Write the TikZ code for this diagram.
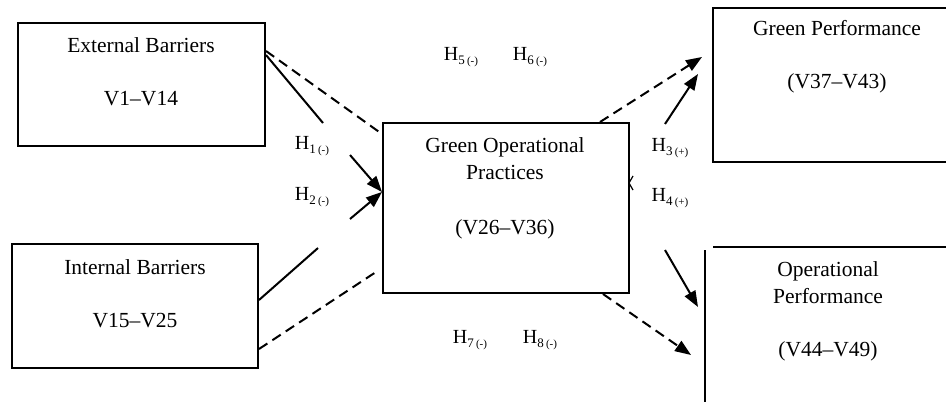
\documentclass[tikz,border=0pt]{standalone}
\usepackage{fontspec}
\setmainfont{Liberation Serif}
\usepackage{tikz}
\usetikzlibrary{arrows.meta}
\newcommand{\hyp}[2]{H\raisebox{-0.45ex}{\fontsize{6.5}{6.5}\selectfont#1\,\fontsize{5.5}{5.5}\selectfont(#2)}}

\begin{document}
\begin{tikzpicture}[x=0.5pt,y=-0.5pt,line width=1pt]
	\useasboundingbox (0,0) rectangle (946,402);
	\begin{scope}[every node/.style={draw,rectangle,inner sep=0pt}]
		\node (ext) at (141.5,84.5) [minimum width=123.5pt,minimum height=61.5pt] {};
		\node (int) at (135,306) [minimum width=123pt,minimum height=62pt] {};
		\node (gop) at (506,208) [minimum width=123pt,minimum height=85pt] {};
	\end{scope}
	% open boxes on the right
	\draw (946,8) -- (713,8) -- (713,162) -- (946,162);
	\draw (713,247) -- (946,247);
	\draw (705,250) -- (705,402);
	\draw[line width=0.6pt] (633,176) -- (629,183) -- (633,190);

	\begin{scope}[every node/.style={align=center,font=\fontsize{10.75}{13.5}\selectfont}]
		\node (extt) at (141,71.5) {External Barriers\\[13pt]V1--V14};
		\node (intt) at (135,294) {Internal Barriers\\[13pt]V15--V25};
		\node (gopt) at (505,188) {Green Operational\\Practices\\[14pt](V26--V36)};
		\node (gpt) at (837,57) {Green Performance\\[13pt](V37--V43)};
		\node (opt) at (828,311) {Operational\\Performance\\[13pt](V44--V49)};
	\end{scope}

	\begin{scope}[every node/.style={font=\fontsize{10}{12}\selectfont}]
		\node (h1) at (312,146) {\hyp{1}{-}};
		\node (h2) at (312,197) {\hyp{2}{-}};
		\node (h3) at (670,148) {\hyp{3}{+}};
		\node (h4) at (670,198) {\hyp{4}{+}};
		\node (h5) at (461,57) {\hyp{5}{-}};
		\node (h6) at (530,57) {\hyp{6}{-}};
		\node (h7) at (470,340) {\hyp{7}{-}};
		\node (h8) at (540,340) {\hyp{8}{-}};
	\end{scope}

	\begin{scope}[>={Triangle[length=8pt,width=6pt]},
	              dsh/.style={dash pattern=on 5pt off 3pt}]
		\coordinate (g1a) at (323,123);
		\coordinate (g1b) at (350,155);
		\coordinate (g2a) at (318,248);
		\coordinate (g2b) at (350,219);
		\coordinate (t5) at (702,57);
		\coordinate (h3a) at (665,124);
		\coordinate (h3b) at (698,74);
		\coordinate (h4a) at (665,250);
		\coordinate (h4b) at (698,307);
		\coordinate (t7) at (691,355);

		\draw ([yshift=-16.5pt]ext.north east) -- (g1a);
		\draw[->] (g1b) -- ([yshift=8pt]gop.west);
		\draw ([yshift=3pt]int.east) -- (g2a);
		\draw[->] (g2b) -- ([yshift=8pt]gop.west);
		\draw[dsh] ([yshift=-14.5pt]ext.north east) -- ([yshift=-6pt]gop.north west);
		\draw[dsh] ([yshift=-21.5pt]int.east) -- ([xshift=-1.5pt,yshift=-31pt]gop.west);

		\draw[dsh,->] ([xshift=47pt]gop.north) -- (t5);
		\draw[->] (h3a) -- (h3b);
		\draw[->] (h4a) -- (h4b);
		\draw[dsh,->] ([xshift=48.5pt]gop.south) -- (t7);
	\end{scope}
\end{tikzpicture}
\end{document}
